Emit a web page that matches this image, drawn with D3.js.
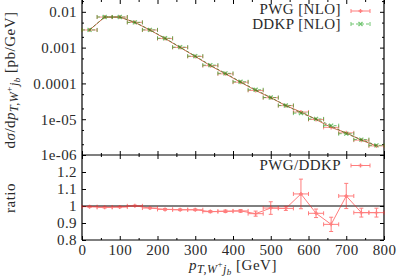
<!DOCTYPE html>
<html>
<head>
<meta charset="utf-8">
<script src="https://cdn.jsdelivr.net/npm/d3@7"></script>
<style>
html, body { margin: 0; padding: 0; background: #fff; }
svg { display: block; }
svg text { font-family: "Liberation Serif", "Times New Roman", serif; }
</style>
</head>
<body>
<svg id="chart" width="399" height="280"></svg>
<script>
// bins (GeV), 40 GeV wide
var binCenters = [20, 60, 100, 140, 180, 220, 260, 300, 340, 380, 420, 460, 500, 540, 580, 620, 660, 700, 740, 780];
var binWidth = 40;

// dsigma/dpT [pb/GeV]
var pwg  = [0.00311, 0.00713, 0.00713, 0.00508, 0.0031, 0.00179, 0.00101, 0.000566, 0.000313, 0.000185,
            0.000108, 6.35e-5, 3.99e-5, 2.39e-5, 1.59e-5, 9.8e-6, 5.9e-6, 4.17e-6, 2.6e-6, 1.79e-6];
var ddkp = [0.00312, 0.00719, 0.00717, 0.00507, 0.00314, 0.00183, 0.00103, 0.000579, 0.000324, 0.000191,
            0.000111, 6.65e-5, 4.04e-5, 2.42e-5, 1.48e-5, 1.02e-5, 6.6e-6, 3.94e-6, 2.7e-6, 1.86e-6];

// PWG/DDKP
var ratio    = [0.996, 0.992, 0.994, 1.001, 0.988, 0.980, 0.978, 0.978, 0.967, 0.969,
                0.971, 0.955, 0.988, 0.986, 1.071, 0.957, 0.892, 1.059, 0.961, 0.961];
var ratioErr = [0.004, 0.004, 0.004, 0.004, 0.004, 0.005, 0.005, 0.005, 0.006, 0.007,
                0.008, 0.015, 0.037, 0.012, 0.087, 0.025, 0.042, 0.074, 0.026, 0.026];

var xTicks = [0, 100, 200, 300, 400, 500, 600, 700, 800];
var xMinorTicks = [50, 150, 250, 350, 450, 550, 650, 750];
var yTopTicks = [1e-6, 1e-5, 1e-4, 1e-3, 1e-2];
var yTopTickLabels = ['1e-06', '1e-05', '0.0001', '0.001', '0.01'];
var yTopMinorTicks = [2e-6, 5e-6, 2e-5, 5e-5, 2e-4, 5e-4, 2e-3, 5e-3, 2e-2];
var yRatioTicks = [0.8, 0.9, 1, 1.1, 1.2];
var yRatioTickLabels = ['0.8', '0.9', '1', '1.1', '1.2'];

var red = 'rgb(255,40,40)';
var green = 'rgb(20,160,20)';
var textCol = '#2a2a2a';
var serif = '"Liberation Serif", "Times New Roman", serif';

var plotL = 82, plotR = 384, plotT = 0, plotM = 155, plotB = 240;
var svg = d3.select('#chart');

var x = d3.scaleLinear().domain([0, 800]).range([plotL, plotR]);
var yTop = d3.scaleLog().domain([1e-6, 0.0214]).range([plotM, plotT]);
var yRat = d3.scaleLinear().domain([0.8, 1.3]).range([plotB, plotM]);

function styleAxis(g) {
    g.attr('font-family', serif);
    g.select('.domain').remove();
    g.selectAll('.tick line').attr('stroke', '#000').attr('stroke-width', 1);
    g.selectAll('text').attr('font-size', 15).attr('fill', textCol).attr('font-family', serif)
        .attr('letter-spacing', 0.4);
}

function fmtFrom(values, labels) {
    return function(d) {
        var i = values.indexOf(d);
        return i < 0 ? '' : labels[i];
    };
}

// ---- top panel axes
svg.append('g').attr('transform', 'translate(' + plotL + ',0)')
    .call(d3.axisLeft(yTop).tickValues(yTopTicks).tickSize(-4).tickPadding(5)
        .tickFormat(fmtFrom(yTopTicks, yTopTickLabels)))
    .call(styleAxis);
svg.append('g').attr('transform', 'translate(' + plotL + ',0)')
    .call(d3.axisLeft(yTop).tickValues(yTopMinorTicks).tickSize(-2).tickFormat(''))
    .call(styleAxis);
svg.append('g').attr('transform', 'translate(' + plotR + ',0)')
    .call(d3.axisRight(yTop).tickValues(yTopTicks).tickSize(-4).tickFormat(''))
    .call(styleAxis);
svg.append('g').attr('transform', 'translate(' + plotR + ',0)')
    .call(d3.axisRight(yTop).tickValues(yTopMinorTicks).tickSize(-2).tickFormat(''))
    .call(styleAxis);

[[plotT, 1], [plotM, -1], [plotM, 1], [plotB, -1]].forEach(function(p) {
    var ax = p[1] > 0 ? d3.axisBottom : d3.axisTop;
    svg.append('g').attr('transform', 'translate(0,' + p[0] + ')')
        .call(ax(x).tickValues(xTicks).tickSize(4).tickFormat(''))
        .call(styleAxis);
    svg.append('g').attr('transform', 'translate(0,' + p[0] + ')')
        .call(ax(x).tickValues(xMinorTicks).tickSize(2).tickFormat(''))
        .call(styleAxis);
});

// ---- ratio panel axes
svg.append('g').attr('transform', 'translate(' + plotL + ',0)')
    .call(d3.axisLeft(yRat).tickValues(yRatioTicks).tickSize(-4).tickPadding(5)
        .tickFormat(fmtFrom(yRatioTicks, yRatioTickLabels)))
    .call(styleAxis);
svg.append('g').attr('transform', 'translate(' + plotR + ',0)')
    .call(d3.axisRight(yRat).tickValues(yRatioTicks).tickSize(-4).tickFormat(''))
    .call(styleAxis);

// x tick labels under the ratio panel
svg.append('g').attr('transform', 'translate(0,' + plotB + ')')
    .call(d3.axisBottom(x).tickValues(xTicks).tickSize(0).tickPadding(0).tickFormat(d3.format('d')))
    .call(styleAxis)
    .selectAll('text').attr('y', 15).attr('dy', 0);

// ---- frame
var frame = svg.append('g').attr('stroke', '#000').attr('stroke-width', 1.2).attr('fill', 'none');
frame.append('line').attr('x1', plotL).attr('x2', plotL).attr('y1', plotT).attr('y2', plotB);
frame.append('line').attr('x1', plotR).attr('x2', plotR).attr('y1', plotT).attr('y2', plotB);
frame.append('line').attr('x1', plotL).attr('x2', plotR).attr('y1', plotM).attr('y2', plotM);
frame.append('line').attr('x1', plotL).attr('x2', plotR).attr('y1', plotB).attr('y2', plotB);
svg.append('line').attr('x1', plotL).attr('x2', plotR).attr('y1', yRat(1)).attr('y2', yRat(1))
    .attr('stroke', '#000').attr('stroke-width', 1);

// ---- series drawing helpers
function xErrBars(g, ys, yScale, color, dash) {
    var sel = g.selectAll(null).data(binCenters).enter();
    sel.append('line')
        .attr('x1', function(d) { return x(d - binWidth / 2); })
        .attr('x2', function(d) { return x(d + binWidth / 2); })
        .attr('y1', function(d, i) { return yScale(ys[i]); })
        .attr('y2', function(d, i) { return yScale(ys[i]); })
        .attr('stroke', color).attr('stroke-dasharray', dash);
    [-1, 1].forEach(function(s) {
        sel.append('line')
            .attr('x1', function(d) { return x(d + s * binWidth / 2); })
            .attr('x2', function(d) { return x(d + s * binWidth / 2); })
            .attr('y1', function(d, i) { return yScale(ys[i]) - 2; })
            .attr('y2', function(d, i) { return yScale(ys[i]) + 2; })
            .attr('stroke', color);
    });
}

function plusMarks(g, cx, cy, color) {
    g.append('path').attr('d', 'M' + (cx - 2) + ',' + cy + 'H' + (cx + 2) + 'M' + cx + ',' + (cy - 2) + 'V' + (cy + 2))
        .attr('stroke', color).attr('stroke-width', 1.4);
}
function crossMarks(g, cx, cy, color) {
    g.append('path').attr('d', 'M' + (cx - 2) + ',' + (cy - 2) + 'L' + (cx + 2) + ',' + (cy + 2) +
        'M' + (cx - 2) + ',' + (cy + 2) + 'L' + (cx + 2) + ',' + (cy - 2))
        .attr('stroke', color).attr('stroke-width', 1.2);
}

var line = function(ys, yScale) {
    return d3.line().x(function(d) { return x(d); }).y(function(d, i) { return yScale(ys[i]); })(binCenters);
};

// top panel: PWG (red) and DDKP (green dashed); the lines overlap into a brownish trace
var gP = svg.append('g').attr('fill', 'none').attr('stroke-width', 1).attr('opacity', 0.5);
xErrBars(gP, pwg, yTop, red, null);
binCenters.forEach(function(d, i) { plusMarks(gP, x(d), yTop(pwg[i]), red); });
svg.append('path').attr('d', line(pwg, yTop)).attr('fill', 'none')
    .attr('stroke', 'rgb(200,70,40)').attr('stroke-width', 1).attr('opacity', 0.8);

var gD = svg.append('g').attr('fill', 'none').attr('stroke-width', 1).attr('opacity', 0.6);
xErrBars(gD, ddkp, yTop, green, '3,2');
binCenters.forEach(function(d, i) { crossMarks(gD, x(d), yTop(ddkp[i]), green); });
svg.append('path').attr('d', line(ddkp, yTop)).attr('fill', 'none')
    .attr('stroke', 'rgb(60,120,30)').attr('stroke-width', 1).attr('stroke-dasharray', '3,2').attr('opacity', 0.7);

// ratio panel
var gR = svg.append('g').attr('fill', 'none').attr('stroke-width', 1).attr('opacity', 0.6);
xErrBars(gR, ratio, yRat, red, null);
gR.append('path').attr('d', line(ratio, yRat)).attr('stroke', red);
binCenters.forEach(function(d, i) {
    var cx = x(d), y0 = yRat(ratio[i] - ratioErr[i]), y1 = yRat(ratio[i] + ratioErr[i]);
    gR.append('path').attr('d', 'M' + cx + ',' + y0 + 'V' + y1 + 'M' + (cx - 2) + ',' + y0 + 'H' + (cx + 2) +
        'M' + (cx - 2) + ',' + y1 + 'H' + (cx + 2)).attr('stroke', red);
    plusMarks(gR, cx, yRat(ratio[i]), red);
});

// ---- legends
function legendEntry(label, ty, ly, color, dash, mark) {
    svg.append('text').attr('x', 341).attr('y', ty).attr('text-anchor', 'end')
        .attr('font-size', 15).attr('fill', textCol).attr('font-family', serif)
        .attr('letter-spacing', 0.4).text(label);
    var g = svg.append('g').attr('fill', 'none').attr('stroke-width', 1).attr('opacity', 0.6);
    g.append('line').attr('x1', 351).attr('x2', 370).attr('y1', ly).attr('y2', ly)
        .attr('stroke', color).attr('stroke-dasharray', dash);
    [351, 370].forEach(function(cx) {
        g.append('line').attr('x1', cx).attr('x2', cx).attr('y1', ly - 2).attr('y2', ly + 2).attr('stroke', color);
    });
    mark(g, 360.5, ly, color);
}
legendEntry('PWG [NLO]', 13.5, 11, red, null, plusMarks);
legendEntry('DDKP [NLO]', 28.5, 24, green, '3,2', crossMarks);
legendEntry('PWG/DDKP', 170, 165.5, red, null, plusMarks);

// ---- axis titles
function subLabel(t) {
    t.append('tspan').attr('font-style', 'italic').text('p');
    t.append('tspan').attr('font-size', 12).attr('font-style', 'italic').attr('dy', 3).text('T,W');
    t.append('tspan').attr('font-size', 9).attr('dy', -6).text('+');
    t.append('tspan').attr('font-size', 12).attr('font-style', 'italic').attr('dy', 6).text('j');
    t.append('tspan').attr('font-size', 9).attr('font-style', 'italic').attr('dy', 2).text('b');
    t.append('tspan').attr('dy', -5).text('\u00a0[');
}

var xl = svg.append('text').attr('x', 233).attr('y', 270).attr('text-anchor', 'middle')
    .attr('font-size', 15).attr('fill', textCol).attr('font-family', serif).attr('letter-spacing', 0.5);
subLabel(xl);
xl.append('tspan').text('GeV]');

var yl = svg.append('text').attr('transform', 'translate(15,80) rotate(-90)').attr('text-anchor', 'middle')
    .attr('font-size', 15).attr('fill', textCol).attr('font-family', serif).attr('letter-spacing', 0.5);
yl.append('tspan').text('d');
yl.append('tspan').attr('font-style', 'italic').text('\u03c3');
yl.append('tspan').text('/d');
subLabel(yl);
yl.append('tspan').text('pb/GeV]');

svg.append('text').attr('transform', 'translate(15,198) rotate(-90)').attr('text-anchor', 'middle')
    .attr('font-size', 15).attr('fill', textCol).attr('font-family', serif).attr('letter-spacing', 0.5)
    .text('ratio');
</script>
</body>
</html>
